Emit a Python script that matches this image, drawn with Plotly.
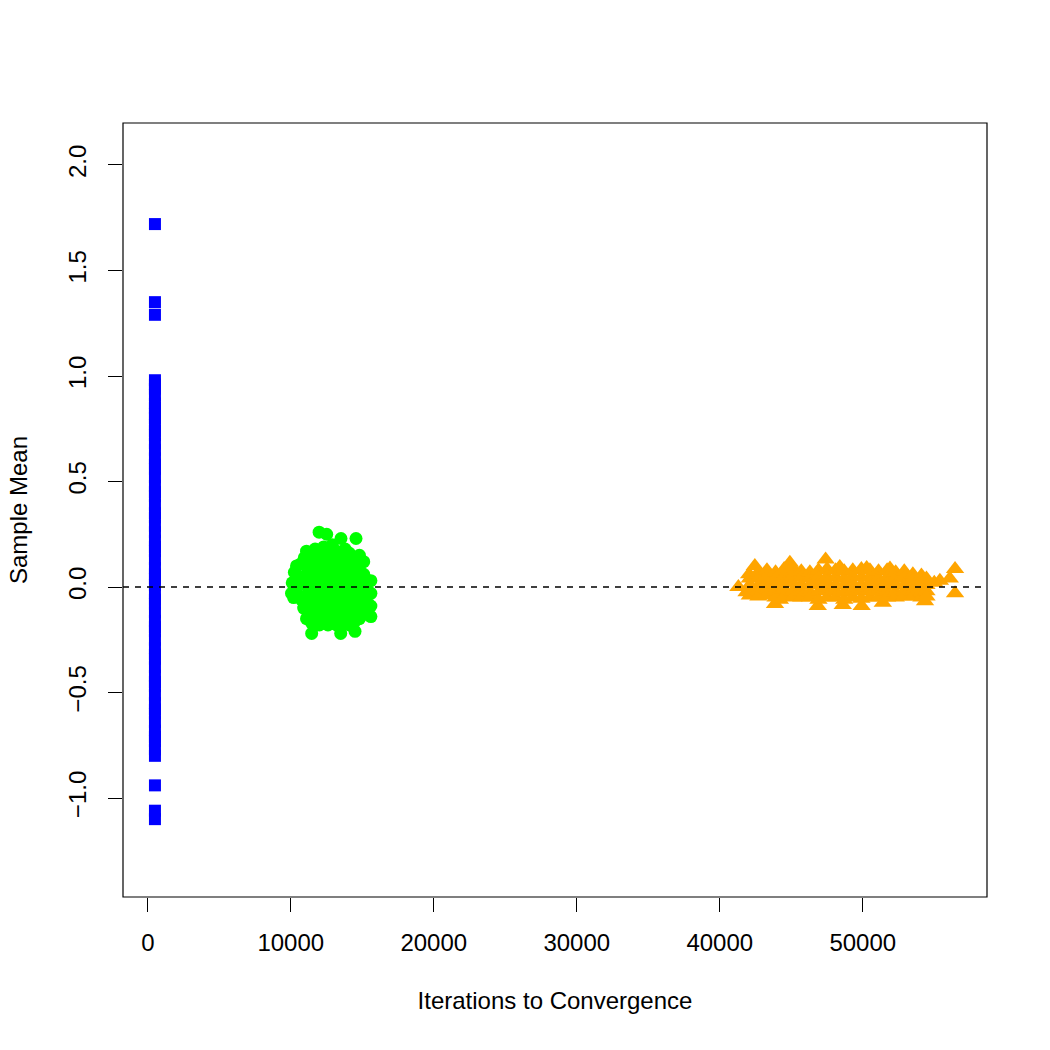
import plotly.graph_objects as go

# ---------------- data ----------------
blue_iter = 500
blue_mean = [1.72, 1.35, 1.29, 0.98, 0.96, 0.94, 0.91,
             0.87, 0.85, 0.82, 0.80, 0.77, 0.74, 0.72, 0.68, 0.65, 0.61, 0.58, 0.56,
             0.52, 0.48, 0.45, 0.43, 0.39, 0.35, 0.33, 0.29, 0.26, 0.22, 0.19, 0.17,
             0.13, 0.09, 0.06, 0.04, 0.01, -0.03, -0.06, -0.08, -0.12, -0.16, -0.19,
             -0.21, -0.25, -0.29, -0.32, -0.34, -0.38, -0.42, -0.45, -0.47, -0.51,
             -0.55, -0.58, -0.60, -0.64, -0.68, -0.71, -0.73, -0.77, -0.80,
             -0.94, -1.06, -1.10]

green_iter = [10050, 10100, 10200, 10250, 10400, 10450, 10550, 10600, 10700, 10750, 10850, 10900, 10950,
              11100, 11100, 11100, 11100, 11100, 11100, 11100,
              11400, 11400, 11400, 11400, 11400, 11400, 11450, 11460,
              11700, 11700, 11700, 11700, 11700, 11700, 11700,
              11980, 12000, 12000, 12000, 12000, 12000, 12000, 12000,
              12300, 12300, 12300, 12300, 12300, 12300, 12300,
              12510, 12600, 12600, 12600, 12600, 12600, 12600, 12600,
              12900, 12900, 12900, 12900, 12900, 12900, 12900,
              13200, 13200, 13200, 13200, 13200, 13200, 13200,
              13510, 13500, 13500, 13500, 13500, 13500, 13500, 13490,
              13800, 13800, 13800, 13800, 13800, 13800, 13800,
              14100, 14100, 14100, 14100, 14100, 14100, 14100,
              14560, 14500, 14500, 14500, 14500, 14500, 14500, 14490,
              14800, 14800, 14800, 14800, 14800, 14800,
              15100, 15100, 15100, 15100, 15100,
              15400, 15400, 15400, 15400,
              15600, 15600, 15600, 15600]
green_mean = [-0.03, 0.02, -0.05, 0.07, 0.10, 0.00, -0.04, 0.05, 0.11, -0.06, 0.02, -0.10, 0.14,
              0.17, 0.12, 0.06, 0.01, -0.04, -0.09, -0.15,
              0.15, 0.09, 0.03, -0.02, -0.07, -0.12, -0.17, -0.22,
              0.18, 0.13, 0.07, 0.00, -0.05, -0.10, -0.16,
              0.26, 0.16, 0.10, 0.04, -0.03, -0.08, -0.13, -0.18,
              0.19, 0.12, 0.06, 0.01, -0.06, -0.11, -0.15,
              0.25, 0.15, 0.08, 0.02, -0.04, -0.09, -0.14, -0.18,
              0.20, 0.13, 0.05, -0.01, -0.07, -0.12, -0.17,
              0.17, 0.10, 0.04, -0.03, -0.08, -0.13, -0.18,
              0.23, 0.14, 0.08, 0.02, -0.05, -0.10, -0.15, -0.22,
              0.18, 0.11, 0.05, -0.01, -0.06, -0.12, -0.17,
              0.16, 0.09, 0.03, -0.03, -0.09, -0.14, -0.18,
              0.23, 0.13, 0.07, 0.01, -0.05, -0.11, -0.16, -0.21,
              0.15, 0.08, 0.02, -0.04, -0.10, -0.15,
              0.12, 0.06, -0.01, -0.07, -0.13,
              0.03, -0.02, -0.08, -0.12,
              0.03, -0.03, -0.09, -0.14]

orange_iter = [41300, 41870, 42450, 43860, 44200, 44900, 45000, 46850, 47400, 48390, 48600,
               49920, 50270, 51400, 51900, 52950, 54350, 55390, 56080, 56450, 56450, 55000,
               42100, 42100, 42150, 42100, 42050,
               42700, 42700, 42750, 42700, 42700,
               43300, 43300, 43300, 43350, 43300,
               43900, 43900, 43900, 43900, 43900,
               44500, 44500, 44550, 44500, 44500,
               45100, 45100, 45100, 45100, 45150,
               45700, 45700, 45700, 45700, 45700,
               46300, 46300, 46300, 46300, 46300,
               46900, 46900, 46900, 46950, 46900,
               47500, 47500, 47500, 47500, 47500,
               48100, 48100, 48100, 48100, 48100,
               48700, 48700, 48700, 48700, 48700,
               49300, 49300, 49300, 49300, 49300,
               49900, 49900, 49900, 49900, 49900,
               50500, 50500, 50500, 50500, 50500,
               51100, 51100, 51100, 51100, 51100,
               51700, 51700, 51700, 51700, 51700,
               52300, 52300, 52300, 52300, 52300,
               52900, 52900, 52900, 52900, 52900,
               53500, 53500, 53500, 53500, 53500,
               54100, 54100, 54100, 54100, 54100,
               54450, 54450, 54450, 54450]
orange_mean = [0.00, -0.025, 0.10, -0.08, -0.06, 0.115, 0.06, -0.09, 0.13, 0.095, -0.085,
               -0.09, 0.09, -0.075, 0.088, 0.065, -0.068, 0.03, 0.04, 0.085, -0.03, 0.02,
               0.04, 0.01, -0.02, -0.04, 0.06,
               0.07, 0.04, 0.01, -0.02, -0.045,
               0.08, 0.05, 0.02, -0.01, -0.04,
               0.07, 0.04, 0.01, -0.02, -0.05,
               0.085, 0.05, 0.02, -0.01, -0.045,
               0.09, 0.05, 0.02, -0.02, -0.05,
               0.075, 0.045, 0.01, -0.02, -0.05,
               0.07, 0.04, 0.01, -0.025, -0.05,
               0.08, 0.045, 0.015, -0.02, -0.06,
               0.085, 0.05, 0.02, -0.015, -0.05,
               0.08, 0.045, 0.01, -0.02, -0.05,
               0.075, 0.04, 0.01, -0.025, -0.06,
               0.08, 0.05, 0.015, -0.02, -0.05,
               0.085, 0.045, 0.01, -0.02, -0.055,
               0.08, 0.05, 0.02, -0.015, -0.05,
               0.075, 0.04, 0.01, -0.02, -0.05,
               0.08, 0.045, 0.015, -0.02, -0.05,
               0.07, 0.04, 0.01, -0.025, -0.05,
               0.075, 0.045, 0.01, -0.02, -0.045,
               0.06, 0.035, 0.005, -0.02, -0.045,
               0.055, 0.03, 0.00, -0.025, -0.05,
               0.04, 0.01, -0.02, -0.045]

x_ticks = [0, 10000, 20000, 30000, 40000, 50000]
y_ticks = [-1.0, -0.5, 0.0, 0.5, 1.0, 1.5, 2.0]
y_tick_text = ["\u22121.0", "\u22120.5", "0.0", "0.5", "1.0", "1.5", "2.0"]
x_range = [-1734, 58685]
y_range = [-1.469, 2.199]

FONT = "Liberation Sans, Arial, Helvetica, sans-serif"

fig = go.Figure()
fig.add_trace(go.Scatter(x=[blue_iter] * len(blue_mean), y=blue_mean, mode="markers",
                         marker=dict(symbol="square", size=12, color="#0000FF", line=dict(width=0)),
                         showlegend=False))
fig.add_trace(go.Scatter(x=green_iter, y=green_mean, mode="markers",
                         marker=dict(symbol="circle", size=13, color="#00FF00", line=dict(width=0)),
                         showlegend=False))
fig.add_trace(go.Scatter(x=orange_iter, y=orange_mean, mode="markers",
                         marker=dict(symbol="triangle-up", size=16, color="#FFA500", line=dict(width=0)),
                         showlegend=False))

fig.add_shape(type="line", xref="paper", yref="y", x0=0, x1=1, y0=0, y1=0,
              line=dict(color="black", width=1.5, dash="6px,6px"), layer="above")
fig.add_shape(type="rect", xref="paper", yref="paper", x0=0, x1=1, y0=0, y1=1,
              line=dict(color="black", width=1.2), layer="above")

fig.update_layout(
    width=1050, height=1050,
    margin=dict(l=123, r=63, t=123, b=153),
    paper_bgcolor="white", plot_bgcolor="white",
    font=dict(family=FONT, size=24, color="black"),
    xaxis=dict(range=x_range, tickvals=x_ticks, ticktext=[str(v) for v in x_ticks],
               ticks="outside", ticklen=14, tickwidth=1.2, tickcolor="black",
               ticklabelstandoff=10,
               showgrid=False, zeroline=False, showline=False,
               title=dict(text="Iterations to Convergence", standoff=37,
                          font=dict(size=24))),
    yaxis=dict(range=y_range, tickvals=y_ticks, ticktext=y_tick_text, tickangle=-90,
               ticks="outside", ticklen=14, tickwidth=1.2, tickcolor="black",
               ticklabelstandoff=12,
               showgrid=False, zeroline=False, showline=False,
               title=dict(text="Sample Mean", standoff=30, font=dict(size=24))),
)

fig.write_html("out.html")
